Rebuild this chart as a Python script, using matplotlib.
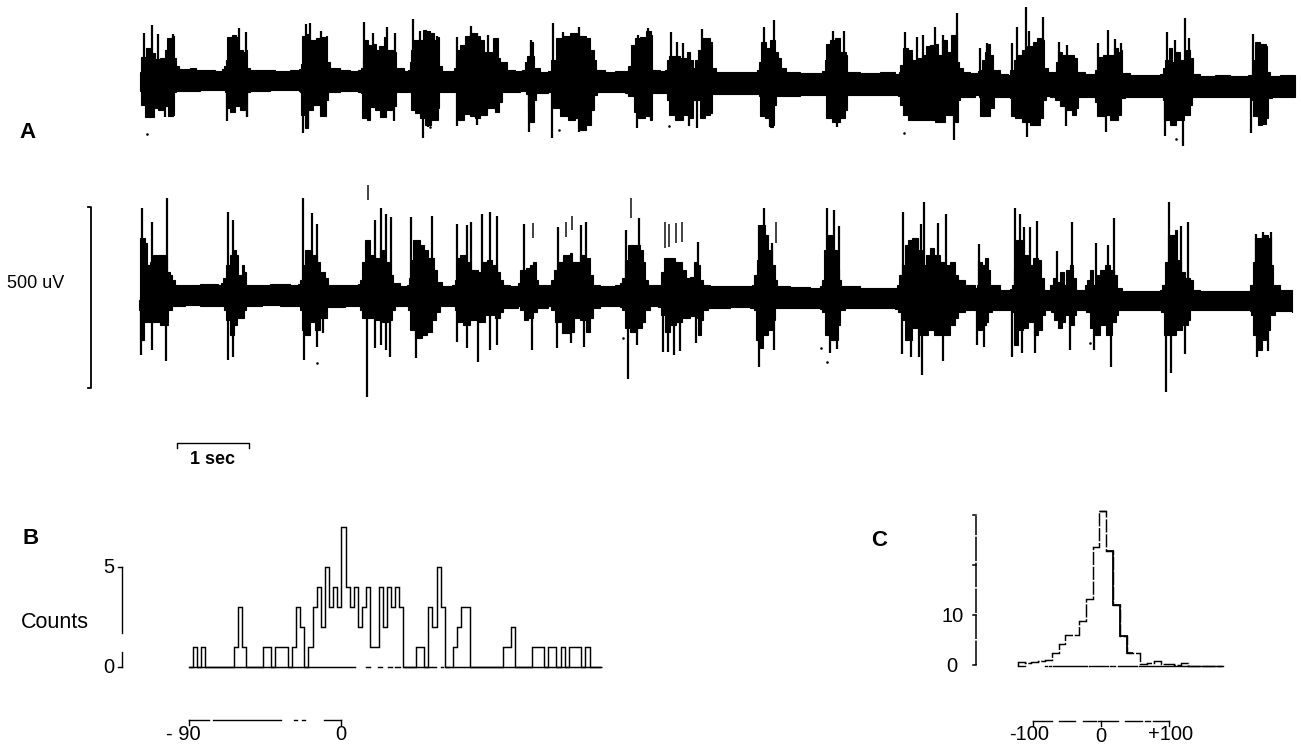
import numpy as np
import matplotlib
matplotlib.use("Agg")
import matplotlib.pyplot as plt

plt.rcParams['font.family'] = ['Liberation Sans', 'DejaVu Sans']
W, H = 1301, 745

# ---- Trace A: envelope readings (time index, deflection reading)
A_UPPER = [(140,72),(141,57),(146,48),(150,53),(155,59),(160,58),(165,50),(167,38),(172,36),(174,58),(176,66),(179,69),(186,69),(190,68),(196,70),(205,70),(215,71),(222,69),(224,66),
(226,60),(227,37),(232,35),(236,37),(238,50),(243,52),(246,50),(247,68),(250,70),(262,70),(275,71),(290,70),(299,69),
(301,64),(302,36),(306,34),(309,40),(313,40),(316,38),(321,37),(326,36),(327,62),(330,68),(340,70),(350,71),(358,70),(361,68),
(363,60),(364,40),(368,45),(371,50),(373,44),(376,50),(379,46),(384,37),(386,50),(394,52),(396,68),(404,71),(408,70),
(410,62),(411,50),(413,40),(418,40),(423,30),(426,31),(430,33),(434,40),(438,37),(439,66),(442,71),(450,71),(454,68),
(456,60),(457,50),(460,45),(465,36),(470,33),(475,36),(480,40),(484,52),(490,52),(493,38),(498,58),(500,62),(504,62),(507,70),(515,71),(522,70),
(525,62),(527,56),(530,42),(533,56),(534,68),(540,72),(548,71),
(551,60),(552,60),(556,38),(563,36),(570,33),(578,36),(586,38),(590,50),(594,60),(596,70),(605,72),(615,71),(625,71),
(628,66),(631,45),(635,38),(640,37),(646,31),(651,35),(652,70),(660,71),(665,70),
(667,60),(669,56),(675,56),(680,58),(687,52),(690,60),(693,68),
(695,60),(698,50),(702,38),(710,42),(712,68),(716,72),(730,72),(745,72),(757,70),
(759,62),(761,42),(766,48),(770,40),(775,52),(778,58),(781,68),(786,72),(800,73),(815,73),(822,71),
(825,60),(826,44),(830,40),(835,38),(840,52),(846,55),(847,72),(860,73),(880,72),(895,74),(899,72),
(900,65),(903,48),(908,50),(912,60),(918,58),(922,55),(926,46),(930,45),(934,44),(938,55),(942,40),(947,52),(951,35),(956,32),(957,62),(959,68),(963,72),(970,73),(978,71),
(979,70),(982,60),(985,52),(988,44),(990,55),(993,70),(1000,74),(1008,75),
(1010,70),(1014,60),(1017,55),(1022,50),(1027,46),(1033,42),(1037,38),(1043,40),(1044,68),(1048,72),(1054,72),
(1056,62),(1058,52),(1062,55),(1068,55),(1074,58),(1077,72),(1085,74),(1093,74),
(1095,70),(1098,57),(1103,55),(1110,55),(1114,48),(1118,52),(1121,50),(1122,73),(1130,75),(1145,75),(1160,74),
(1163,68),(1165,60),(1169,48),(1172,62),(1175,52),(1180,60),(1186,50),(1190,58),(1193,74),(1200,76),(1215,75),(1230,76),(1248,75),
(1252,70),(1253,60),(1255,42),(1260,44),(1266,46),(1267,72),(1270,76),(1280,75),(1295,76)]

A_LOWER = [(140,91),(141,105),(145,117),(152,117),(154,108),(158,110),(163,106),(168,116),(173,115),(174,92),(176,91),(185,91),(200,90),(215,90),(224,90),
(225,92),(226,108),(230,112),(235,106),(240,110),(246,116),(247,92),(250,91),(270,90),(299,91),
(300,92),(301,115),(305,128),(308,110),(313,105),(320,116),(326,100),(328,92),(340,91),(358,92),
(361,93),(362,118),(367,120),(370,107),(375,110),(380,117),(386,110),(392,106),(396,92),(410,92),
(411,110),(415,113),(420,118),(425,125),(431,120),(438,108),(439,92),(456,92),
(457,100),(458,120),(464,114),(470,116),(475,118),(480,115),(487,108),(495,112),(499,102),(502,92),(520,91),
(526,94),(528,110),(530,122),(534,100),(536,93),(548,92),
(552,95),(553,108),(560,116),(568,120),(575,118),(580,130),(586,125),(591,110),(594,95),(597,92),(625,93),
(628,96),(634,112),(638,118),(645,116),(650,120),(652,93),(665,93),
(667,100),(669,115),(675,120),(683,115),(690,118),(693,100),(695,100),(700,118),(705,115),(710,113),(712,94),(758,94),
(759,96),(760,116),(765,118),(770,127),(773,125),(774,105),(776,96),(800,95),(823,95),
(824,95),(826,118),(832,122),(840,118),(845,110),(847,95),(898,96),
(900,105),(903,115),(908,120),(915,120),(925,120),(935,122),(945,115),(955,122),(958,100),(960,97),(975,95),
(979,97),(980,116),(985,116),(990,108),(994,97),(1008,97),
(1010,98),(1011,116),(1015,118),(1022,122),(1030,125),(1040,118),(1043,100),(1046,96),(1050,97),
(1055,100),(1060,106),(1065,110),(1072,115),(1076,108),(1078,97),(1092,97),
(1095,102),(1097,116),(1105,115),(1110,120),(1118,115),(1121,98),(1125,97),(1160,97),
(1163,100),(1164,120),(1170,125),(1176,120),(1184,115),(1190,105),(1192,97),(1250,97),
(1252,100),(1253,116),(1258,125),(1262,124),(1266,118),(1268,98),(1272,97),(1295,97)]

A_SPIKES_UP = [(144,33),(152,25),(158,34),(173,34),(239,28),(246,32),(306,24),(310,23),(321,31),(364,22),(387,27),(395,33),(373,33),(413,19),(420,31),(437,36),(457,37),(471,26),(477,33),(488,35),(505,62),
(531,40),(553,23),(563,32),(579,27),(569,37),(648,28),(638,35),(671,32),(677,42),(683,43),(702,29),(764,27),(774,20),(833,31),(844,31),(905,32),
(917,37),(923,35),(935,27),(943,35),(957,13),(980,48),(987,43),(1012,43),(1017,27),(1026,7),(1029,31),(1043,17),(1059,42),(1067,45),(1098,43),(1108,30),(1115,39),(1121,43),(1167,32),(1175,40),(1185,18),(1189,38),(1253,34)]
A_SPIKES_DOWN = [(147,118),(165,117),(227,121),(247,117),(303,133),(308,127),(394,121),(423,138),(428,127),(457,126),(477,125),
(529,132),(552,138),(579,132),(588,120),(637,128),(651,120),(689,126),(697,128),(770,127),(837,127),
(954,140),(1027,137),(1066,126),(1106,132),(1165,136),(1183,146),(1251,133)]
A_SPECKS = [(147,134),(904,133),(559,130),(1176,139),(430,127),(669,126)]

# ---- Second trace
T2_UPPER = [(139,300),(140,238),(145,243),(147,265),(150,262),(153,255),(160,255),(165,258),(167,272),(170,275),(172,280),(175,285),(183,285),(200,284),(218,285),(221,283),
(223,278),(226,265),(230,255),(233,250),(236,255),(238,275),(242,265),(244,272),(246,285),(255,285),(270,284),(290,285),(298,284),
(300,280),(303,265),(305,250),(310,265),(313,255),(317,262),(320,272),(325,278),(328,285),(340,285),(358,284),
(360,280),(362,262),(365,240),(370,255),(375,258),(380,250),(385,262),(390,275),(393,283),(400,286),(407,285),
(409,278),(411,260),(413,240),(420,245),(424,250),(428,258),(434,270),(437,282),(442,286),(452,285),
(455,280),(457,258),(460,255),(465,262),(470,270),(478,272),(482,262),(487,260),(492,265),(497,272),(500,280),(503,285),(510,286),(518,283),
(520,270),(526,268),(530,265),(533,262),(536,280),(538,285),(548,285),
(551,280),(554,270),(558,262),(563,255),(570,253),(572,262),(576,262),(580,255),(585,258),(590,275),(593,285),(600,286),(615,285),(620,283),
(622,278),(625,260),(628,245),(635,245),(640,250),(643,262),(645,280),(648,285),(658,285),
(661,272),(664,258),(669,258),(675,262),(682,270),(686,278),(690,277),(694,262),(697,265),(700,280),(703,285),(710,286),(730,286),(745,286),(752,285),
(754,275),(757,260),(760,225),(765,235),(768,250),(772,265),(775,280),(777,286),(790,287),(810,288),(820,286),
(822,280),(824,250),(828,235),(833,250),(837,270),(839,280),(841,286),(860,288),(880,288),(895,288),(897,285),
(899,275),(902,265),(905,245),(908,240),(912,238),(918,250),(922,265),(926,255),(930,248),(934,255),(940,262),(945,265),(950,262),(955,275),(958,280),(965,285),(975,288),
(977,285),(978,262),(982,265),(985,258),(988,270),(990,285),(1000,290),(1010,289),
(1012,285),(1014,270),(1016,240),(1022,255),(1028,265),(1033,258),(1038,260),(1041,278),(1044,290),(1048,290),
(1050,285),(1053,278),(1056,282),(1060,272),(1064,285),(1066,270),(1070,265),(1073,278),(1076,290),(1082,290),
(1085,285),(1087,280),(1090,270),(1093,285),(1097,275),(1100,270),(1105,265),(1110,270),(1114,275),(1117,288),(1122,291),(1140,291),(1160,290),
(1162,285),(1165,262),(1168,235),(1175,230),(1177,260),(1181,272),(1185,278),(1190,280),(1193,290),(1200,291),(1220,291),(1248,291),
(1250,285),(1253,262),(1255,238),(1262,235),(1268,238),(1271,265),(1273,285),(1280,290),(1292,292)]

T2_LOWER = [(139,310),(140,340),(144,322),(150,322),(160,325),(166,325),(168,310),(172,306),(185,305),(200,306),(222,306),
(224,310),(226,320),(230,335),(234,325),(237,318),(240,318),(244,310),(246,306),(262,305),(280,306),(298,306),
(300,310),(302,330),(305,335),(310,322),(315,330),(320,318),(323,318),(327,307),(345,306),(358,306),
(360,310),(362,318),(368,318),(375,320),(382,322),(388,320),(392,310),(395,306),(407,306),
(408,310),(410,330),(415,338),(422,335),(427,332),(432,320),(436,312),(440,306),(452,306),
(455,310),(457,322),(463,325),(470,320),(478,322),(485,315),(495,318),(500,312),(503,308),(518,306),
(520,310),(524,320),(528,318),(533,312),(537,308),(548,306),
(551,310),(555,322),(562,333),(570,332),(574,318),(580,320),(586,332),(590,318),(593,308),(600,306),(620,307),
(622,310),(625,328),(630,332),(637,328),(642,322),(645,310),(650,306),(658,307),
(661,315),(665,332),(670,325),(676,322),(682,318),(690,316),(697,318),(698,335),(701,320),(703,310),(708,308),(730,307),(750,308),
(754,310),(756,340),(760,348),(763,335),(768,330),(773,320),(775,308),(790,308),(820,309),
(822,312),(825,335),(830,340),(835,340),(838,325),(840,310),(845,308),(895,309),
(898,312),(902,320),(905,340),(912,328),(920,335),(928,330),(934,335),(945,335),(950,325),(955,318),(958,312),(965,310),(975,310),
(976,312),(978,330),(982,325),(986,322),(988,312),(992,310),(1008,310),
(1012,312),(1014,345),(1018,330),(1023,328),(1028,322),(1034,335),(1038,330),(1042,315),(1045,310),(1050,310),
(1051,312),(1054,320),(1058,328),(1062,322),(1065,315),(1070,325),(1074,315),(1076,310),(1084,310),
(1086,312),(1090,328),(1095,335),(1100,325),(1106,335),(1112,322),(1116,315),(1118,310),(1160,310),
(1161,312),(1164,335),(1170,335),(1176,330),(1182,325),(1188,320),(1190,310),(1250,311),
(1251,315),(1253,335),(1258,350),(1262,340),(1266,330),(1270,315),(1275,311),(1292,312)]

T2_SPIKES_UP = [(142,208),(152,222),(167,198),(228,212),(233,220),(303,198),(312,213),(317,224),(375,220),(381,208),(386,214),(391,217),(411,217),(432,216),(457,224),(467,225),(471,222),(482,214),(490,212),(497,216),
(524,224),(558,227),(586,222),(581,225),(626,230),(639,218),(698,242),(764,208),(759,225),(772,243),(827,208),(834,210),(839,226),(903,212),
(924,202),(921,224),(938,223),(946,214),(979,244),(1015,208),(1020,214),(1024,227),(1030,227),(1037,221),(1057,251),(1072,222),(1096,243),(1108,245),(1114,218),(1169,202),(1181,226),(1188,222),(1256,234),(1263,232),(1271,232)]
T2_SPIKES_DOWN = [(141,355),(152,350),(166,361),(228,360),(233,357),(304,360),(317,347),(323,333),(367,397),(375,348),(381,345),(386,350),(390,357),(416,358),(457,342),(467,348),(478,362),(490,350),(497,345),
(532,350),(557,348),(571,343),(584,347),(628,379),(637,345),(663,352),(668,352),(674,355),(680,351),(696,343),(759,367),(774,350),(830,353),(837,349),(902,354),(911,357),(919,357),
(922,375),(943,361),(977,345),(984,347),(1012,357),(1022,353),(1035,353),(1070,350),(1094,350),(1111,367),(1166,392),(1171,373),(1185,354),(1257,357),(1268,351)]
T2_DETACHED = [(368,185,200),(631,198,218),(665,222,248),(669,224,247),(676,223,243),(682,222,242),(533,223,238),(566,222,237),(572,216,230),(776,222,243)]
T2_SPECKS = [(1090,343),(827,362),(317,363),(821,348),(623,338)]

# ---- Panel B: counts per bin
B_COUNTS = [0,1,0,1,0,0,0,0,0,0,0,1,3,1,0,0,0,0,1,1,0,1,1,1,0,1,3,2,0,1,3,4,2,5,3,4,3,7,4,3,4,2,3,4,1,1,4,2,4,3,4,3,0,0,0,1,1,0,3,2,5,3,0,0,1,2,3,3,0,0,0,0,0,0,0,0,1,1,2,0,0,0,0,1,1,1,0,1,1,0,1,0,1,1,1,0,1,0,0,0]
B_START_MS = -90
B_BIN_MS = 2.44
B_BASE_SEGS = [(-90,8),(15,17),(22,24),(28,30),(32,35),(37,56),(59,60),(62,64),(66,153)]
B_XAXIS_SEGS = [(-90,-78),(-75.5,-35.5),(-28,-26),(-23,-21),(-10,0)]
B_YTICK_VALUES = [0,5]
B_YAXIS_SEGS = [(5,1.7),(0.75,0)]

# ---- Panel C: counts per bin
C_COUNTS = [0.9,0.7,0.8,1.1,1.2,2.7,4.5,6.2,6.2,9,13.5,23.8,31,23,12.3,6,2.7,2.7,0.5,0.7,1,0.5,0.5,0.2,0.7,0.1,0.1,0,0,0]
C_START_MS = -122.5
C_BIN_MS = 10
C_YTICKS = [0,10,20,30]
C_YLABELS = {0:'0',10:'10'}
C_BASE_SEGS = [(-122,-112),(-82,-79),(-76,-74),(-70,-20),(-17,10),(13,20),(25,53),(56,180)]
C_XAXIS_SEGS = [(-100,-72),(-62,-38),(-27,-8),(-4,25),(36,60),(65,72),(76,100)]

SEC_BAR_PX = 72
UV_BAR_PX = 181

fig = plt.figure(figsize=(W/100, H/100), dpi=100)
fig.patch.set_facecolor('white')


def pixel_axes(left, right, top, bottom, xlim, ylim):
    a = fig.add_axes([left/W, 1-bottom/H, (right-left)/W, (bottom-top)/H])
    a.set_xlim(*xlim)
    a.set_ylim(*ylim)
    a.axis('off')
    a.patch.set_alpha(0)
    return a


ax = pixel_axes(0, W, 0, H, (0, W), (H, 0))


def blocky(points):
    """Hold each reading until the next one, as the inked trace does."""
    p = np.array(points, float)
    xs = np.repeat(p[:, 0], 2)[1:]
    ys = np.repeat(p[:, 1], 2)[:-1]
    return xs, ys


def trace(upper, lower, up, down, mid, specks):
    ux, uy = blocky(upper)
    lx, ly = blocky(lower)
    ax.fill(np.r_[ux, lx[::-1]], np.r_[uy, ly[::-1]], color='black', lw=0.8)
    s = np.array(up, float)
    ax.vlines(s[:, 0], s[:, 1], mid, color='black', lw=1.6)
    s = np.array(down, float)
    ax.vlines(s[:, 0], mid, s[:, 1], color='black', lw=1.6)
    s = np.array(specks, float)
    ax.scatter(s[:, 0], s[:, 1], s=3.5, color='black', lw=0)


trace(A_UPPER, A_LOWER, A_SPIKES_UP, A_SPIKES_DOWN, 82, A_SPECKS)
trace(T2_UPPER, T2_LOWER, T2_SPIKES_UP, T2_SPIKES_DOWN, 297, T2_SPECKS)
for x_, y0, y1 in T2_DETACHED:
    ax.vlines(x_, y0, y1, color='#222222', lw=1.2)

# scale bars
ax.plot([88, 91, 91, 88], [207, 207, 207+UV_BAR_PX, 207+UV_BAR_PX], color='black', lw=1.3)
ax.plot([177, 177, 177+SEC_BAR_PX, 177+SEC_BAR_PX], [448, 443, 443, 448], color='black', lw=1.0)
txt = dict(color='black', ha='center', va='center')
ax.text(35.5, 283, '500 uV', fontsize=13, **txt)
ax.text(213, 460, '1 sec', fontsize=13, fontweight='bold', **txt)
ax.text(28, 132, 'A', fontsize=16, fontweight='bold', **txt)
ax.text(31, 538, 'B', fontsize=16, fontweight='bold', **txt)
ax.text(879, 541, 'C', fontsize=16, fontweight='bold', **txt)
ax.text(55, 622, 'Counts', fontsize=15.5, **txt)

# ---- Panel B axes (-90 -> px 188.5, 0 -> px 341; 0 counts -> 667, 5 counts -> 567)
bx_s = (341-188.5)/90
by_s = 20
axb = pixel_axes(100, 620, 510, 745,
                 ((100-341)/bx_s, (620-341)/bx_s), ((667-745)/by_s, (667-510)/by_s))
edges = B_START_MS + B_BIN_MS*np.arange(len(B_COUNTS)+1)
axb.stairs(B_COUNTS, edges, color='black', lw=1.05, baseline=None)
for a_, b_ in B_BASE_SEGS:
    axb.plot([a_, b_], [0, 0], color='black', lw=1.05)
x_ax = (122-341)/bx_s
for a_, b_ in B_YAXIS_SEGS:
    axb.plot([x_ax, x_ax], [a_, b_], color='black', lw=1.0)
for v in B_YTICK_VALUES:
    axb.plot([x_ax-2.5, x_ax], [v, v], color='black', lw=1.0)
    axb.text(x_ax-7.5, v-0.02, str(v), fontsize=14.5, **txt)
y_ax = (667-720)/by_s
for a_, b_ in B_XAXIS_SEGS:
    axb.plot([a_, b_], [y_ax, y_ax], color='black', lw=1.0)
for v in (-90, 0):
    axb.plot([v, v], [y_ax, y_ax-0.25], color='black', lw=1.0)
axb.text(-93, (667-735)/by_s, '- 90', fontsize=14.5, **txt)
axb.text(0, (667-735)/by_s, '0', fontsize=14.5, **txt)

# ---- Panel C axes (0 -> px 1101, 100 -> px 1168; 0 counts -> 666, 10 -> 616)
cx_s = 0.68
cy_s = 5
axc = pixel_axes(900, 1280, 500, 745,
                 ((900-1101)/cx_s, (1280-1101)/cx_s), ((666-745)/cy_s, (666-500)/cy_s))
edges = C_START_MS + C_BIN_MS*np.arange(len(C_COUNTS)+1)
axc.stairs(C_COUNTS, edges, color='black', lw=1.05, baseline=0, linestyle=(0, (9, 1.2)))
axc.stairs(C_COUNTS[12:13], edges[12:14], color='black', lw=1.05, baseline=None)
axc.stairs(C_COUNTS[13:17], edges[13:18], color='black', lw=1.3, baseline=None)
for a_, b_ in C_BASE_SEGS:
    axc.plot([a_, b_], [0, 0], color='black', lw=1.0)
x_ax = (976-1101)/cx_s
axc.plot([x_ax, x_ax], [0.3, 30], color='black', lw=1.1, linestyle=(0, (16, 1)))
for v in C_YTICKS:
    axc.plot([x_ax-4, x_ax], [v+0.3, v+0.3], color='black', lw=1.1)
    if v in C_YLABELS:
        axc.text(x_ax-35, v, C_YLABELS[v], fontsize=14.5, **txt)
y_ax = (666-721)/cy_s
for a_, b_ in C_XAXIS_SEGS:
    axc.plot([a_, b_], [y_ax, y_ax], color='black', lw=1.0)
for v in (-100, 0, 100):
    axc.plot([v, v], [y_ax, y_ax-0.9], color='black', lw=1.0)
axc.text(-105, (666-735)/cy_s, '-100', fontsize=14.5, **txt)
axc.text(0, (666-737)/cy_s, '0', fontsize=14.5, **txt)
axc.text(103, (666-735)/cy_s, '+100', fontsize=14.5, **txt)

fig.savefig('out.png', dpi=100, facecolor='white')
